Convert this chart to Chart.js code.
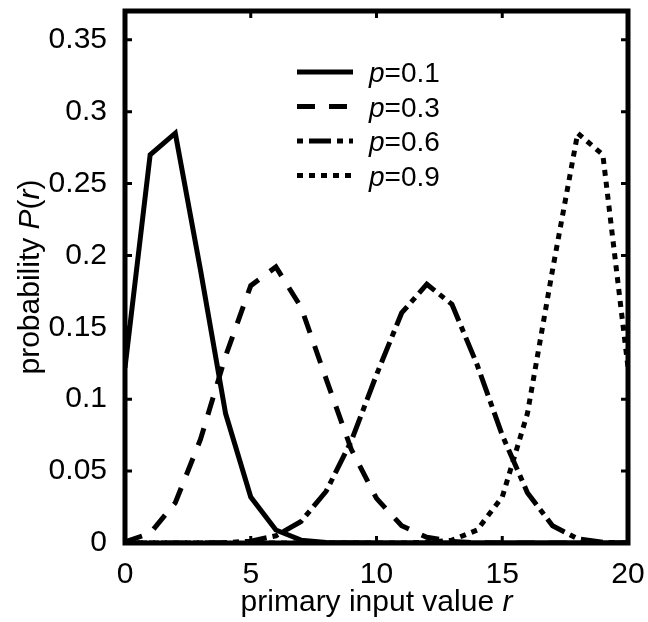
<!DOCTYPE html>
<html>
<head>
<meta charset="utf-8">
<script src="https://cdn.jsdelivr.net/npm/chart.js@4/dist/chart.umd.min.js"></script>
<style>
  html, body { margin: 0; padding: 0; background: #fff; }
  #wrap { width: 648px; height: 622px; }
</style>
</head>
<body>
<div id="wrap"><canvas id="chart" width="648" height="622"></canvas></div>
<script>
// values (r = 0..20)
const rValues = [0,1,2,3,4,5,6,7,8,9,10,11,12,13,14,15,16,17,18,19,20];
const p01 = [0.122,0.270,0.285,0.190,0.090,0.032,0.009,0.002,0.0004,0.0001,0,0,0,0,0,0,0,0,0,0,0];
const p03 = [0.0008,0.0068,0.028,0.072,0.130,0.179,0.192,0.164,0.114,0.065,0.031,0.012,0.004,0.001,0.0002,0,0,0,0,0,0];
const p06 = [0,0,0,0,0.0003,0.0013,0.005,0.015,0.036,0.071,0.117,0.160,0.180,0.166,0.124,0.075,0.035,0.012,0.003,0.0005,0];
const p09 = [0,0,0,0,0,0,0,0,0,0,0,0,0.0004,0.002,0.009,0.032,0.090,0.190,0.285,0.270,0.122];
const seriesNames = ['0.1', '0.3', '0.6', '0.9'];
const dashes = [[], [18, 14], [22, 6, 6, 6], [6, 6]];
const legendDashOffset = [0, 0, 28, 0];
const xTicks = [0, 5, 10, 15, 20];
const yTicks = [0, 0.05, 0.1, 0.15, 0.2, 0.25, 0.3, 0.35];

const FONT = 'Liberation Sans, Arial, sans-serif';

function pts(arr) {
  return rValues.map((r, i) => ({ x: r, y: arr[i] }));
}

const datasets = [p01, p03, p06, p09].map((arr, i) => ({
  label: 'p=' + seriesNames[i],
  data: pts(arr),
  borderColor: '#000',
  borderWidth: 5,
  borderDash: dashes[i],
  borderCapStyle: 'butt',
  pointRadius: 0,
  tension: 0,
  fill: false
}));

// frame, inward ticks, legend and axis titles
const framePlugin = {
  id: 'frame',
  afterDraw(chart) {
    const { ctx, chartArea: a, scales } = chart;
    ctx.save();
    ctx.strokeStyle = '#000';
    ctx.lineWidth = 3;
    xTicks.forEach(v => {
      const x = scales.x.getPixelForValue(v);
      ctx.beginPath();
      ctx.moveTo(x, a.bottom); ctx.lineTo(x, a.bottom - 7);
      ctx.moveTo(x, a.top); ctx.lineTo(x, a.top + 7);
      ctx.stroke();
    });
    yTicks.forEach(v => {
      const y = scales.y.getPixelForValue(v);
      ctx.beginPath();
      ctx.moveTo(a.left, y); ctx.lineTo(a.left + 7, y);
      ctx.moveTo(a.right, y); ctx.lineTo(a.right - 7, y);
      ctx.stroke();
    });
    ctx.lineWidth = 5;
    ctx.strokeRect(a.left, a.top, a.right - a.left, a.bottom - a.top);

    // legend
    const lx = 297, lw = 56, tx = 369;
    let ly = 72;
    datasets.forEach((ds, i) => {
      ctx.lineWidth = 5;
      ctx.setLineDash(ds.borderDash);
      ctx.lineDashOffset = legendDashOffset[i];
      ctx.beginPath();
      ctx.moveTo(lx, ly); ctx.lineTo(lx + lw, ly);
      ctx.stroke();
      ctx.setLineDash([]);
      ctx.lineDashOffset = 0;
      ctx.fillStyle = '#000';
      ctx.textBaseline = 'alphabetic';
      ctx.textAlign = 'left';
      ctx.font = 'italic 28px ' + FONT;
      ctx.fillText('p', tx, ly + 10);
      const w = ctx.measureText('p').width;
      ctx.font = '28px ' + FONT;
      ctx.fillText('=' + seriesNames[i], tx + w, ly + 10);
      ly += 34.5;
    });

    // axis titles with italic variables
    ctx.textBaseline = 'alphabetic';
    const xt1 = 'primary input value ', xt2 = 'r';
    ctx.font = '30px ' + FONT;
    const w1 = ctx.measureText(xt1).width;
    ctx.font = 'italic 30px ' + FONT;
    const w2 = ctx.measureText(xt2).width;
    let sx = (a.left + a.right) / 2 - (w1 + w2) / 2;
    ctx.font = '30px ' + FONT;
    ctx.fillText(xt1, sx, 611);
    ctx.font = 'italic 30px ' + FONT;
    ctx.fillText(xt2, sx + w1, 611);

    ctx.translate(39, (a.top + a.bottom) / 2);
    ctx.rotate(-Math.PI / 2);
    const parts = [['probability ', ''], ['P', 'italic '], ['(', ''], ['r', 'italic '], [')', '']];
    let tw = 0;
    parts.forEach(p => { ctx.font = p[1] + '30px ' + FONT; tw += ctx.measureText(p[0]).width; });
    let px = -tw / 2;
    parts.forEach(p => {
      ctx.font = p[1] + '30px ' + FONT;
      ctx.fillText(p[0], px, 0);
      px += ctx.measureText(p[0]).width;
    });
    ctx.restore();
  }
};

new Chart(document.getElementById('chart'), {
  type: 'line',
  data: { datasets },
  options: {
    responsive: false,
    animation: false,
    layout: { padding: { top: 11, right: 20, left: 0, bottom: 0 } },
    plugins: { legend: { display: false }, tooltip: { enabled: false } },
    scales: {
      x: {
        type: 'linear',
        min: 0, max: 20,
        grid: { display: false },
        border: { display: false },
        afterBuildTicks: s => { s.ticks = xTicks.map(v => ({ value: v })); },
        afterFit: s => { s.height = 79; s.paddingLeft = 0; s.paddingRight = 0; },
        ticks: { color: '#000', font: { family: FONT, size: 30 }, padding: 6, maxRotation: 0 }
      },
      y: {
        min: 0, max: 0.37,
        grid: { display: false },
        border: { display: false },
        afterBuildTicks: s => { s.ticks = yTicks.map(v => ({ value: v })); },
        afterFit: s => { s.width = 125; s.paddingTop = 0; s.paddingBottom = 0; },
        ticks: {
          color: '#000', font: { family: FONT, size: 30 }, padding: 10,
          callback: v => String(Number(v.toFixed(2)))
        }
      }
    }
  },
  plugins: [framePlugin]
});
</script>
</body>
</html>
